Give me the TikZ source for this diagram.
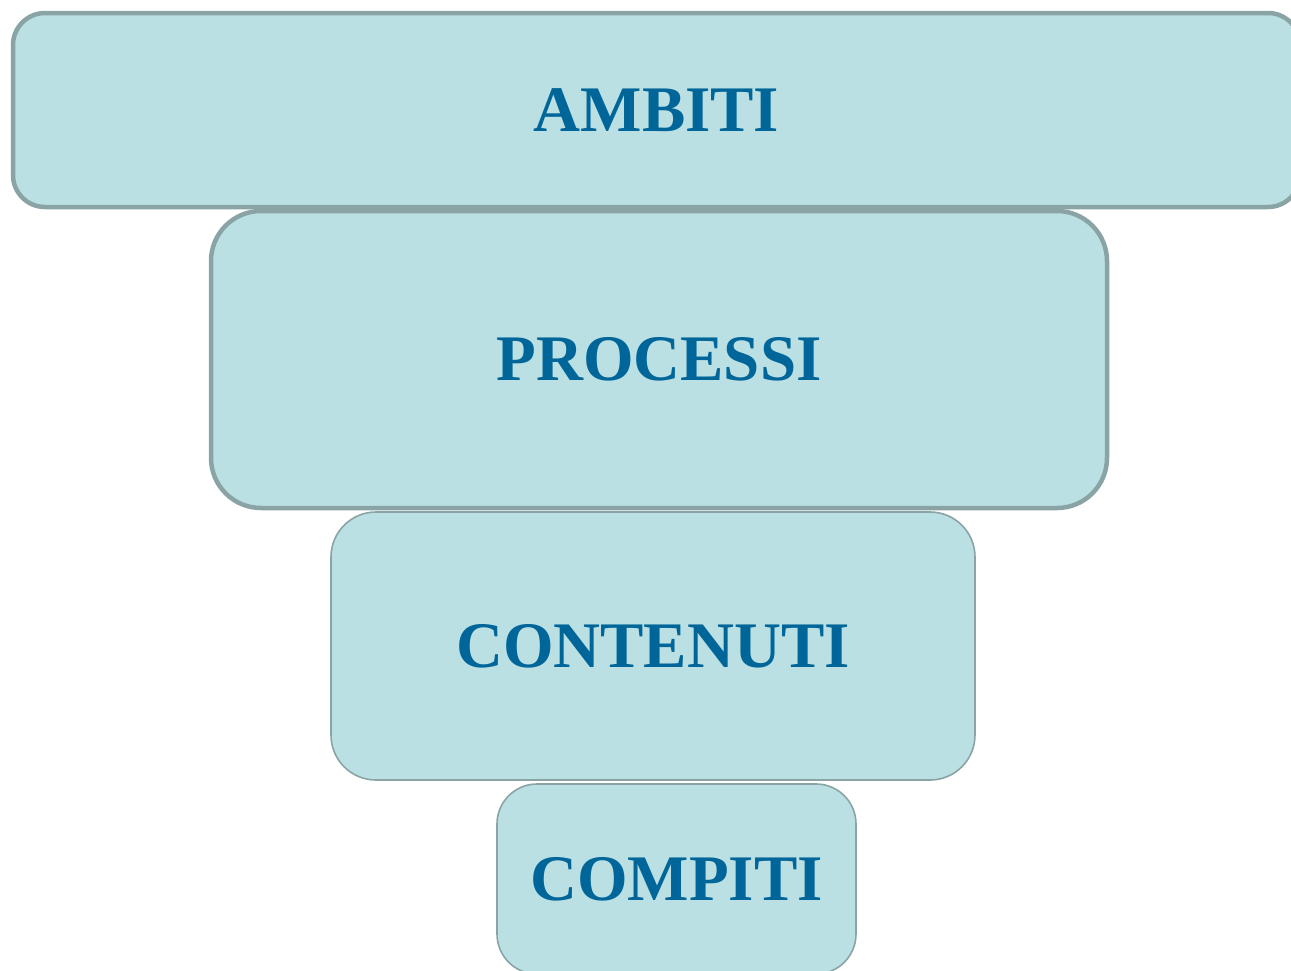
\documentclass[tikz,border=0pt]{standalone}
\usepackage{fontspec}
\setmainfont{Liberation Serif}
\definecolor{boxfill}{HTML}{BBE0E3}
\definecolor{boxline}{HTML}{8AA4A6}
\definecolor{labeltext}{HTML}{006699}
\begin{document}
\begin{tikzpicture}[x=1pt,y=-1pt,
  level/.style={rectangle, fill=boxfill, draw=boxline, outer sep=0pt, inner sep=0pt,
    text=labeltext, font=\fontsize{65}{72}\selectfont\bfseries},
  heavy/.style={level, line width=4.5pt},
  light/.style={level, line width=1.6pt}]
\useasboundingbox (0,0) rectangle (1291,970);
\clip (0,0) rectangle (1291,970);
\node[heavy, rounded corners=32pt, minimum width=1287pt, minimum height=194pt]
  (ambiti) at (656.5,110) {AMBITI};
\node[heavy, rounded corners=50pt, minimum width=896pt, minimum height=297pt]
  (processi) at (659,359.5) {PROCESSI};
\node[light, rounded corners=45pt, minimum width=644pt, minimum height=268pt]
  (contenuti) at (653,646) {CONTENUTI};
\node[light, rounded corners=40pt, minimum width=359pt, minimum height=190pt]
  (compiti) at (676.5,879) {COMPITI};
\end{tikzpicture}
\end{document}
